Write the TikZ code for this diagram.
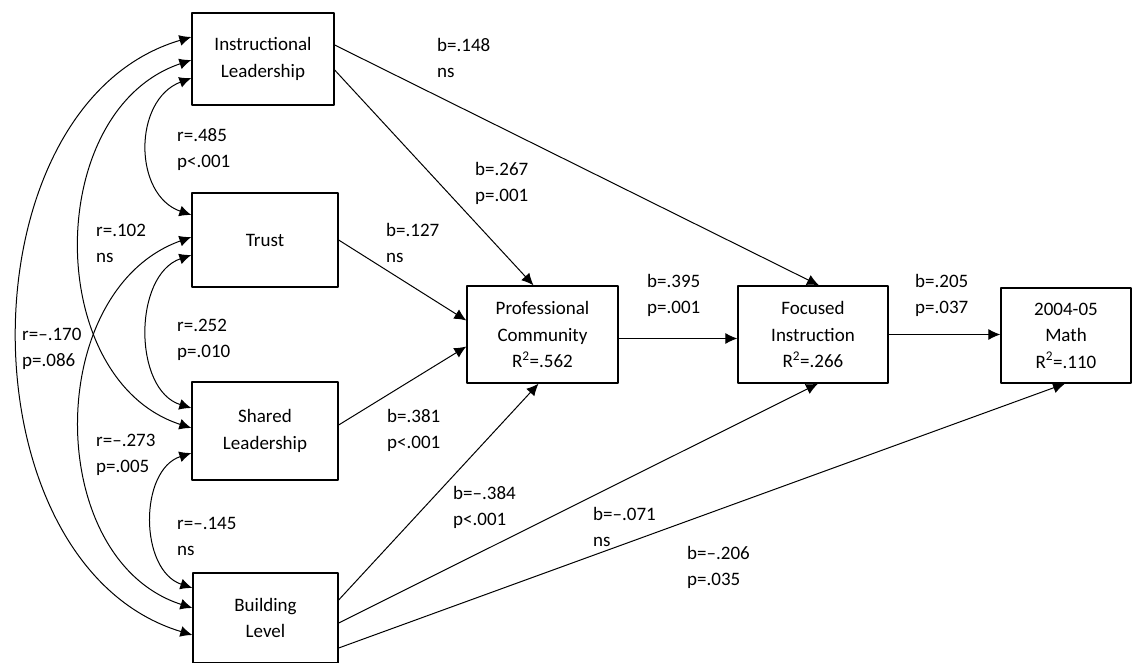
\documentclass[tikz,border=0pt]{standalone}
\usepackage{fontspec}
\setmainfont{Carlito}
\usetikzlibrary{arrows.meta}

\begin{document}
\begin{tikzpicture}[>={Latex[length=12bp,width=11bp]},line join=bevel,x=1bp,y=-1bp,
  var/.style={draw,line width=1.3bp,inner sep=0pt,align=center,font=\fontsize{19bp}{26.5bp}\selectfont},
  coef/.style={anchor=west,align=left,inner sep=0pt,font=\fontsize{19bp}{26bp}\selectfont},
  effect/.style={->,line width=1bp},
  corr/.style={<->,line width=1bp}]
  \useasboundingbox (0,0) rectangle (1139,663);
%%
  % Node: il
  \node[var,minimum width=142bp,minimum height=92bp] (il) at (263,59) {Instructional\\Leadership};
  % Node: trust
  \node[var,minimum width=146bp,minimum height=94bp] (trust) at (265,240) {Trust};
  % Node: shared
  \node[var,minimum width=146bp,minimum height=98bp] (shared) at (265,431) {Shared\\Leadership};
  % Node: bldg
  \node[var,minimum width=145bp,minimum height=90bp] (bldg) at (265.5,618) {Building\\Level};
  % Node: pc
  \node[var,minimum width=151bp,minimum height=97bp] (pc) at (542.5,334.5) {Professional\\Community\\R\textsuperscript{2}=.562};
  % Node: fi
  \node[var,minimum width=150bp,minimum height=97bp] (fi) at (813,334.5) {Focused\\Instruction\\R\textsuperscript{2}=.266};
  % Node: math
  \node[var,minimum width=130bp,minimum height=95bp] (math) at (1066,335.5) {2004-05\\Math\\R\textsuperscript{2}=.110};
%
  % Edge: il -> fi
  \draw[effect] ([yshift=14bp]il.east) -- ([xshift=6bp]fi.north);
  % Edge: il -> pc
  \draw[effect] ([yshift=-11bp]il.east) -- ([xshift=-9bp]pc.north);
  % Edge: trust -> pc
  \draw[effect] (trust.east) -- ([yshift=14bp]pc.west);
  % Edge: shared -> pc
  \draw[effect] ([yshift=6bp]shared.east) -- ([yshift=-12bp]pc.west);
  % Edge: bldg -> pc
  \draw[effect] ([yshift=18bp]bldg.east) -- ([xshift=-4bp]pc.south);
  % Edge: bldg -> fi
  \draw[effect] ([yshift=-5bp]bldg.east) -- ([xshift=5bp]fi.south);
  % Edge: bldg -> math
  \draw[effect] ([yshift=-30bp]bldg.east) -- ([xshift=-1bp]math.south);
  % Edge: pc -> fi
  \draw[effect] ([yshift=-4bp]pc.east) -- ([yshift=-4bp]fi.west);
  % Edge: fi -> math
  \draw[effect] (fi.east) -- (fi.east -| math.west);
%
  % Edge: il <-> trust
  \draw[corr] ([yshift=-19bp]il.west) .. controls (133,100) and (133,195) .. ([yshift=25bp]trust.west);
  % Edge: trust <-> shared
  \draw[corr] ([yshift=-15bp]trust.west) .. controls (133,275) and (133,390) .. ([yshift=23bp]shared.west);
  % Edge: shared <-> bldg
  \draw[corr] ([yshift=-22bp]shared.west) .. controls (139,470) and (139,570) .. ([yshift=30bp]bldg.west);
  % Edge: il <-> shared
  \draw[corr] ([yshift=-1bp]il.west) .. controls (43,110) and (43,380) .. ([yshift=3bp]shared.west);
  % Edge: trust <-> bldg
  \draw[corr] ([yshift=3bp]trust.west) .. controls (43,290) and (43,560) .. ([yshift=10bp]bldg.west);
  % Edge: il <-> bldg
  \draw[corr] ([yshift=22bp]il.west) .. controls (-40,105) and (-40,565) .. ([yshift=-17bp]bldg.west);
%
  % Labels: correlations
  \node[coef] (rIlTrust) at (177,150) {r=.485\\p<.001};
  \node[coef] (rIlShared) at (96,243) {r=.102\\ns};
  \node[coef] (rIlBldg) at (22,349) {r=--.170\\p=.086};
  \node[coef] (rTrustShared) at (177,340) {r=.252\\p=.010};
  \node[coef] (rTrustBldg) at (96,455) {r=--.273\\p=.005};
  \node[coef] (rSharedBldg) at (177,536) {r=--.145\\ns};
  % Labels: paths
  \node[coef] (bIlFi) at (437,58) {b=.148\\ns};
  \node[coef] (bIlPc) at (475,183) {b=.267\\p=.001};
  \node[coef] (bTrustPc) at (386,243) {b=.127\\ns};
  \node[coef] (bPcFi) at (647,295) {b=.395\\p=.001};
  \node[coef] (bFiMath) at (915,295) {b=.205\\p=.037};
  \node[coef] (bSharedPc) at (387,430) {b=.381\\p<.001};
  \node[coef] (bBldgPc) at (453,507) {b=--.384\\p<.001};
  \node[coef] (bBldgFi) at (593,527) {b=--.071\\ns};
  \node[coef] (bBldgMath) at (687,567) {b=--.206\\p=.035};
%
\end{tikzpicture}
\end{document}
